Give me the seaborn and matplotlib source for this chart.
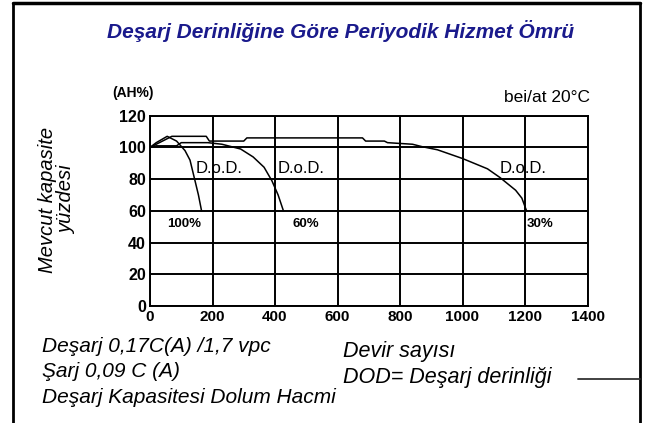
import numpy as np
import pandas as pd
import matplotlib
matplotlib.use("Agg")
import matplotlib.pyplot as plt
import seaborn as sns

# ---- data ----
cycles_100 = [0, 20, 55, 85, 112, 128, 144, 155, 165]
cap_100 = [100, 103, 107, 104, 98, 92, 79, 70, 60]

cycles_60 = [0, 20, 85, 100, 185, 230, 290, 330, 365, 390, 410, 427]
cap_60 = [100, 101, 101, 103, 103, 102, 99, 94, 87.5, 79, 70, 60]

cycles_30 = [0, 30, 70, 180, 190, 300, 310, 680, 690, 750, 760, 840, 870, 920,
             1000, 1080, 1120, 1170, 1190, 1205]
cap_30 = [100, 103, 107, 107, 104, 104, 106, 106, 104, 104, 103, 102, 100.5, 98.5,
          93, 86.5, 81, 73, 68, 60]

series_names = ["100%", "60%", "30%"]
x_ticks = [0, 200, 400, 600, 800, 1000, 1200, 1400]
y_ticks = [0, 20, 40, 60, 80, 100, 120]

title = "Deşarj Derinliğine Göre Periyodik Hizmet Ömrü"
ylabel = "Mevcut kapasite\nyüzdesi"
notes_left = ["Deşarj 0,17C(A) /1,7 vpc", "Şarj 0,09 C (A)", "Deşarj Kapasitesi Dolum Hacmi"]
notes_right = ["Devir sayısı", "DOD= Deşarj derinliği"]

df = pd.concat([
    pd.DataFrame({"cycles": cycles_100, "cap": cap_100, "dod": "100%"}),
    pd.DataFrame({"cycles": cycles_60, "cap": cap_60, "dod": "60%"}),
    pd.DataFrame({"cycles": cycles_30, "cap": cap_30, "dod": "30%"}),
], ignore_index=True)

sns.set_style("white")
plt.rcParams["font.family"] = ["Liberation Sans", "DejaVu Sans"]
plt.rcParams["text.color"] = "black"
plt.rcParams["xtick.color"] = "black"
plt.rcParams["ytick.color"] = "black"

fig = plt.figure(figsize=(6.49, 4.23), dpi=100)
ax = fig.add_axes([150 / 649, 1 - 306 / 423, (587.5 - 150) / 649, (306 - 115.7) / 423])

sns.lineplot(data=df, x="cycles", y="cap", hue="dod", hue_order=series_names,
             palette=["black"] * 3, estimator=None, sort=False, legend=False,
             linewidth=1.1, ax=ax)

ax.set_xlim(0, 1400)
ax.set_ylim(0, 120)
ax.set_xticks(x_ticks)
ax.set_yticks(y_ticks)
ax.set_xticklabels([str(v) for v in x_ticks], fontsize=11, fontweight="bold")
ax.set_yticklabels([str(v) for v in y_ticks], fontsize=11.5, fontweight="bold")
ax.tick_params(axis="x", length=0, pad=3)
ax.tick_params(axis="y", length=0, pad=3)
ax.grid(True, color="black", linewidth=1.4)
for s in ax.spines.values():
    s.set_color("black")
    s.set_linewidth(1.4)
ax.set_xlabel("")
ax.set_ylabel("")

# annotations inside the chart
for xx in [221, 483, 1195]:
    ax.text(xx, 87, "D.o.D.", fontsize=12, ha="center", va="center")
label_pos = {"100%": 109, "60%": 499, "30%": 1248}
for name, xx in label_pos.items():
    ax.text(xx, 52, name, fontsize=9.5, fontweight="bold", ha="center", va="center")

fig.text(133 / 649, 1 - 93 / 423, "(AH%)", fontsize=10, fontweight="bold",
         ha="center", va="center")
fig.text(590 / 649, 1 - 97 / 423, "bei/at 20°C", fontsize=12.5, ha="right", va="center")

fig.text(341 / 649, 1 - 31 / 423, title, fontsize=15, fontstyle="italic",
         fontweight="bold", color="#1a1a8c", ha="center", va="center")
fig.text(57 / 649, 1 - 200 / 423, ylabel, fontsize=14.5, fontstyle="italic",
         rotation=90, ha="center", va="center", linespacing=1.0)

left_base = [351.5, 377, 402.5]
for yy, t in zip(left_base, notes_left):
    fig.text(42 / 649, 1 - yy / 423, t, fontsize=15,
             fontstyle="italic", ha="left", va="baseline")
right_base = [356.5, 383]
for yy, t in zip(right_base, notes_right):
    fig.text(343 / 649, 1 - yy / 423, t, fontsize=15.5,
             fontstyle="italic", ha="left", va="baseline")

# slide frame
fig.add_artist(plt.Line2D([13 / 649, 13 / 649], [0, 1 - 3 / 423], color="black",
                          linewidth=2, transform=fig.transFigure))
fig.add_artist(plt.Line2D([640 / 649, 640 / 649], [0, 1 - 3 / 423], color="black",
                          linewidth=2, transform=fig.transFigure))
fig.add_artist(plt.Line2D([13 / 649, 640 / 649], [1 - 3 / 423, 1 - 3 / 423],
                          color="black", linewidth=2.5, transform=fig.transFigure))
fig.add_artist(plt.Line2D([578 / 649, 640 / 649], [1 - 379 / 423, 1 - 379 / 423],
                          color="#333333", linewidth=1.3, transform=fig.transFigure))

fig.savefig("out.png", dpi=100)
